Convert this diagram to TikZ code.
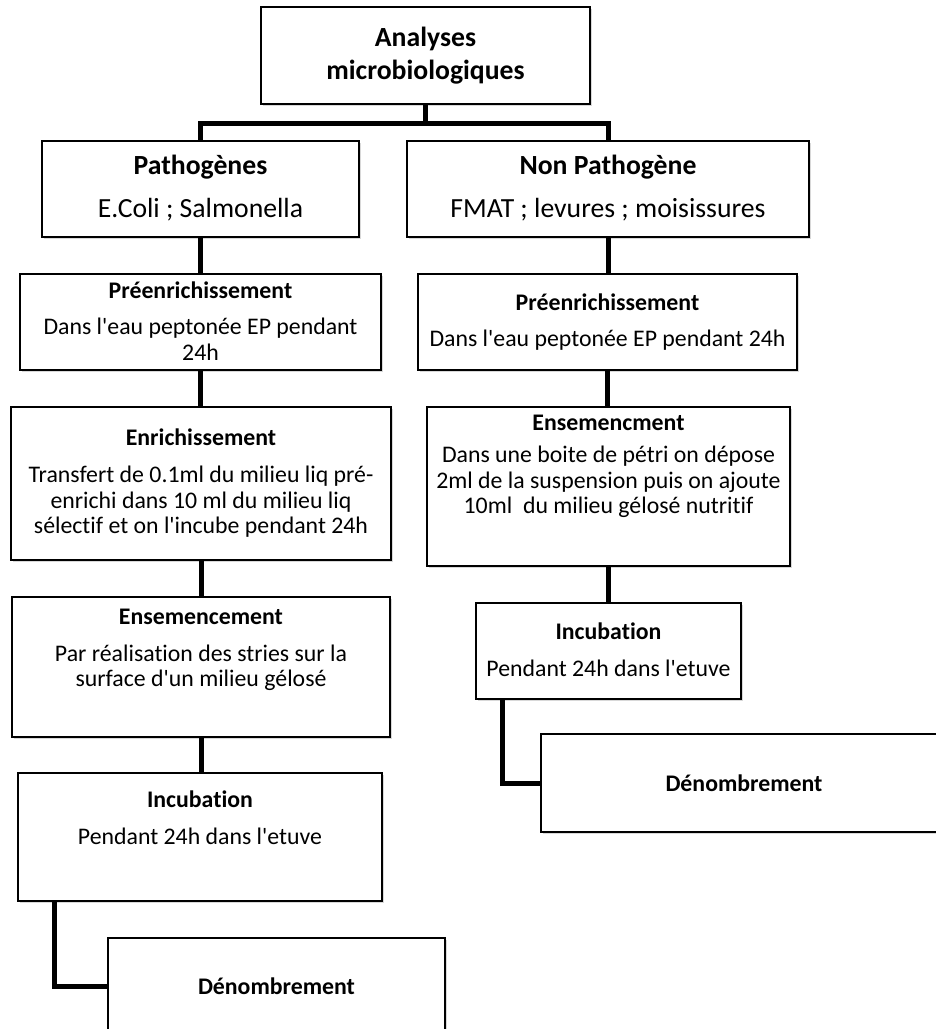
\documentclass[tikz,border=0pt]{standalone}
\usepackage{fontspec}
\setmainfont{Carlito}[Ligatures={TeXOff,NoCommon}]
\usetikzlibrary{shadows,calc}

\tikzset{
  box/.style={draw=black, line width=1.3pt, fill=white, inner sep=0pt,
    drop shadow={shadow xshift=1.5pt, shadow yshift=-2pt, opacity=0.3}},
  big/.style={font=\fontsize{27.7}{33.5}\selectfont, align=center, inner sep=0pt},
  bigb/.style={font=\fontsize{27.7}{33.5}\selectfont\bfseries, align=center, inner sep=0pt},
  small/.style={font=\fontsize{23.8}{25.5}\selectfont, align=center, inner sep=0pt},
  smallb/.style={font=\fontsize{23.8}{25.5}\selectfont\bfseries, align=center, inner sep=0pt},
  conn/.style={draw=black, line width=5pt}
}

\begin{document}
\begin{tikzpicture}[x=1pt, y=-1pt]
\useasboundingbox (0,0) rectangle (936,1029);
\clip (0,0) rectangle (936,1029);
\fill[white] (0,0) rectangle (936,1029);

% boxes
\node[box, minimum width=329, minimum height=97] (top) at (425.5,55.5) {};
\node[box, minimum width=317, minimum height=96] (path) at (200.5,189) {};
\node[box, minimum width=402, minimum height=96] (nonpath) at (608,189) {};
\node[box, minimum width=361, minimum height=96] (preL) at (200.5,322) {};
\node[box, minimum width=379, minimum height=96] (preR) at (607.5,322) {};
\node[box, minimum width=380, minimum height=153] (enrL) at (201,483.5) {};
\node[box, minimum width=363, minimum height=159] (ensR) at (608.5,486.5) {};
\node[box, minimum width=378, minimum height=140] (ensL) at (201,667) {};
\node[box, minimum width=265, minimum height=96] (incR) at (608.5,651) {};
\node[box, minimum width=364, minimum height=128] (incL) at (200,837) {};
\node[box, minimum width=406, minimum height=98] (denR) at (744,783) {};
\node[box, minimum width=337, minimum height=96] (denL) at (276.5,986) {};

% texts
\node[bigb] (top-t) at (top.center) {Analyses\\microbiologiques};

\node[bigb] (path-t) at ($(path.north)+(0,27)$) {Pathogènes};
\node[big] (path-b) at ($(path.north)+(0,69)$) {E.Coli ; Salmonella};

\node[bigb] (nonpath-t) at ($(nonpath.north)+(0,27)$) {Non Pathogène};
\node[big] (nonpath-b) at ($(nonpath.north)+(0,69)$) {FMAT ; levures ; moisissures};

\node[smallb] (preL-t) at ($(preL.north)+(0,17)$) {Préenrichissement};
\node[small] (preL-b) at ($(preL.north)+(0,66)$) {Dans l'eau peptonée EP pendant\\24h};

\node[smallb] (preR-t) at ($(preR.north)+(0,29)$) {Préenrichissement};
\node[small] (preR-b) at ($(preR.north)+(0,67)$) {Dans l'eau peptonée EP pendant 24h};

\node[smallb] (enrL-t) at ($(enrL.north)+(0,31)$) {Enrichissement};
\node[small] (enrL-b) at ($(enrL.north)+(0,95.5)$) {Transfert de 0.1ml du milieu liq pré-\\enrichi dans 10 ml du milieu liq\\sélectif et on l'incube pendant 24h};

\node[smallb] (ensR-t) at ($(ensR.north)+(0,17)$) {Ensemencment};
\node[small] (ensR-b) at ($(ensR.north)+(0,75.5)$) {Dans une boite de pétri on dépose\\2ml de la suspension puis on ajoute\\10ml\ \ du milieu gélosé nutritif};

\node[smallb] (ensL-t) at ($(ensL.north)+(0,21)$) {Ensemencement};
\node[small] (ensL-b) at ($(ensL.north)+(0,71.5)$) {Par réalisation des stries sur la\\surface d'un milieu gélosé};

\node[smallb] (incR-t) at ($(incR.north)+(0,29)$) {Incubation};
\node[small] (incR-b) at ($(incR.north)+(0,66)$) {Pendant 24h dans l'etuve};

\node[smallb] (incL-t) at ($(incL.north)+(0,27)$) {Incubation};
\node[small] (incL-b) at ($(incL.north)+(0,64)$) {Pendant 24h dans l'etuve};

\node[smallb] (denR-t) at (denR.center) {Dénombrement};
\node[smallb] (denL-t) at (denL.center) {Dénombrement};

% connectors
\draw[conn] (top.south) -- ++(0,19) coordinate (split);
\draw[conn] (path.north) |- (split) -| (nonpath.north);

\draw[conn] (path.south) -- (path.south |- preL.north);
\draw[conn] (preL.south) -- (preL.south |- enrL.north);
\draw[conn] (enrL.south) -- (enrL.south |- ensL.north);
\draw[conn] (ensL.south) -- (ensL.south |- incL.north);
\draw[conn] (incL.south west) ++(37,0) |- (denL.west);

\draw[conn] (nonpath.south) -- (nonpath.south |- preR.north);
\draw[conn] (preR.south) -- (preR.south |- ensR.north);
\draw[conn] (ensR.south) -- (ensR.south |- incR.north);
\draw[conn] (incR.south west) ++(27,0) |- (denR.west);
\end{tikzpicture}
\end{document}
